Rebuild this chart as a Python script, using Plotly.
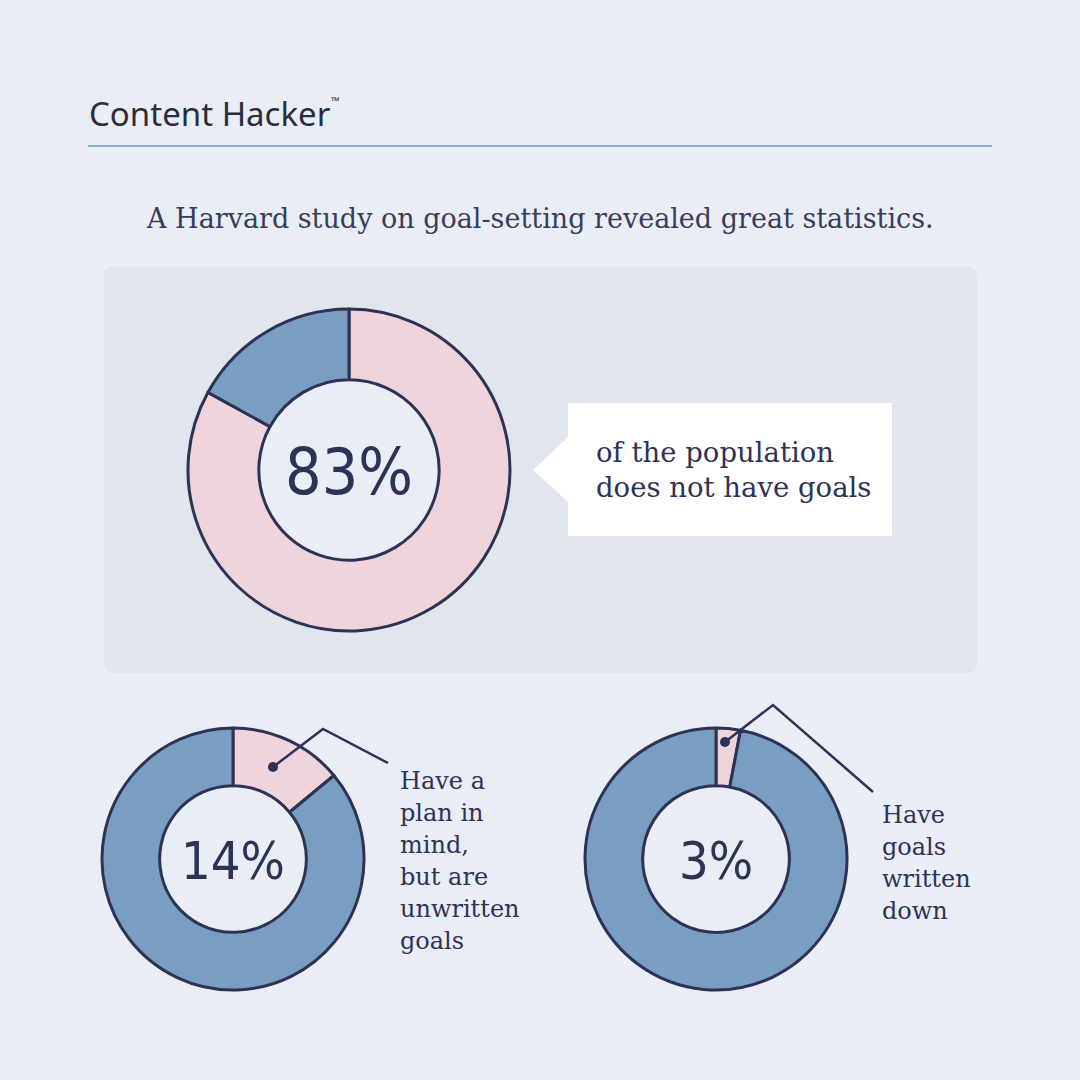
import plotly.graph_objects as go

# ---- data ----
categories = ["Do not have goals", "Plan in mind, unwritten", "Goals written down"]
shares = [83, 14, 3]
pct_labels = ["83%", "14%", "3%"]
callout_lines = ["of the population", "does not have goals"]
label_left_lines = ["Have a", "plan in", "mind,", "but are", "unwritten", "goals"]
label_right_lines = ["Have", "goals", "written", "down"]
title_text = "Content Hacker"
subtitle_text = "A Harvard study on goal-setting revealed great statistics."

# ---- style ----
BG = "#E9EDF5"
PANEL = "#E1E5EE"
PINK = "#F0D4DC"
BLUE = "#7A9EC2"
NAVY = "#2E3356"
W = H = 1080

SERIF = "DejaVu Serif, Liberation Serif, serif"
COND = "Liberation Sans Narrow, DejaVu Sans Condensed, Roboto, sans-serif"

# donut geometry (pixel centres / radii)
donuts = [
    dict(cx=349, cy=470, r=161, hole=0.56, colors=[PINK, BLUE], fs=64),
    dict(cx=233, cy=859, r=131, hole=0.56, colors=[PINK, BLUE], fs=52),
    dict(cx=716, cy=859, r=131, hole=0.56, colors=[PINK, BLUE], fs=52),
]

fig = go.Figure()
shapes = []
annotations = []

# background panel (rounded)
x0, y0, x1, y1, rr = 104, 266, 977, 673, 10
shapes.append(dict(
    type="path", layer="below", xref="x", yref="y",
    path=(f"M {x0+rr} {y0} L {x1-rr} {y0} Q {x1} {y0} {x1} {y0+rr} "
          f"L {x1} {y1-rr} Q {x1} {y1} {x1-rr} {y1} L {x0+rr} {y1} "
          f"Q {x0} {y1} {x0} {y1-rr} L {x0} {y0+rr} Q {x0} {y0} {x0+rr} {y0} Z"),
    fillcolor=PANEL, line=dict(width=0)))

# horizontal rule
shapes.append(dict(type="line", xref="x", yref="y", x0=88, x1=992, y0=146, y1=146,
                   line=dict(color="#8EA9CA", width=2), layer="below"))

# callout box with arrow
shapes.append(dict(
    type="path", layer="below", xref="x", yref="y",
    path="M 568 403 L 892 403 L 892 536 L 568 536 L 568 502 L 533 470 L 568 437 Z",
    fillcolor="#FFFFFF", line=dict(width=0)))

for d, s, lab in zip(donuts, shares, pct_labels):
    cx, cy, r = d["cx"], d["cy"], d["r"]
    ri = r * d["hole"]
    # hole fill
    shapes.append(dict(type="circle", layer="below", xref="x", yref="y",
                       x0=cx - ri, x1=cx + ri, y0=cy - ri, y1=cy + ri,
                       fillcolor=BG, line=dict(width=0)))
    fig.add_trace(go.Pie(
        values=[s, 100 - s], labels=["share", "rest"],
        hole=d["hole"], sort=False, direction="clockwise", rotation=0,
        marker=dict(colors=d["colors"], line=dict(color=NAVY, width=3)),
        textinfo="none", hoverinfo="skip", showlegend=False,
        domain=dict(x=[(cx - r) / W, (cx + r) / W],
                    y=[1 - (cy + r) / H, 1 - (cy - r) / H]),
    ))
    annotations.append(dict(x=cx, y=cy + 2, xref="x", yref="y", text=lab,
                            showarrow=False, xanchor="center", yanchor="middle",
                            font=dict(family=COND, size=d["fs"], color=NAVY)))

# leader lines + dots
for pts, dot in [([(273, 767), (323, 729), (388, 763)], (273, 767)),
                 ([(725, 742), (773, 705), (873, 792)], (725, 742))]:
    path = "M " + " L ".join(f"{x} {y}" for x, y in pts)
    shapes.append(dict(type="path", layer="above", xref="x", yref="y", path=path,
                       line=dict(color=NAVY, width=2.5)))
    shapes.append(dict(type="circle", layer="above", xref="x", yref="y",
                       x0=dot[0] - 5, x1=dot[0] + 5, y0=dot[1] - 5, y1=dot[1] + 5,
                       fillcolor=NAVY, line=dict(width=0)))

# title texts
annotations.append(dict(x=87, y=113, xref="x", yref="y",
                        text=title_text,
                        showarrow=False, xanchor="left", yanchor="middle",
                        font=dict(family="Noto Sans, Lato, sans-serif", size=33, color="#2B2D3C")))
annotations.append(dict(x=329, y=100, xref="x", yref="y", text="™",
                        showarrow=False, xanchor="left", yanchor="middle",
                        font=dict(family="Noto Sans, Lato, sans-serif", size=11, color="#2B2D3C")))
annotations.append(dict(x=540, y=218, xref="x", yref="y", text=subtitle_text,
                        showarrow=False, xanchor="center", yanchor="middle",
                        font=dict(family=SERIF, size=27, color="#3A3D58")))

for i, t in enumerate(callout_lines):
    annotations.append(dict(x=594, y=452 + i * 35, xref="x", yref="y", text=t,
                            showarrow=False, xanchor="left", yanchor="middle",
                            font=dict(family=SERIF, size=27.5, color=NAVY)))
for i, t in enumerate(label_left_lines):
    annotations.append(dict(x=398, y=781 + i * 32, xref="x", yref="y", text=t,
                            showarrow=False, xanchor="left", yanchor="middle",
                            font=dict(family=SERIF, size=24, color=NAVY)))
for i, t in enumerate(label_right_lines):
    annotations.append(dict(x=880, y=815 + i * 32, xref="x", yref="y", text=t,
                            showarrow=False, xanchor="left", yanchor="middle",
                            font=dict(family=SERIF, size=24, color=NAVY)))

fig.update_layout(
    width=W, height=H, autosize=False,
    margin=dict(l=0, r=0, t=0, b=0, pad=0),
    paper_bgcolor=BG, plot_bgcolor="rgba(0,0,0,0)",
    xaxis=dict(range=[0, W], visible=False, fixedrange=True),
    yaxis=dict(range=[H, 0], visible=False, fixedrange=True),
    shapes=shapes, annotations=annotations,
)

fig.write_html("out.html")
